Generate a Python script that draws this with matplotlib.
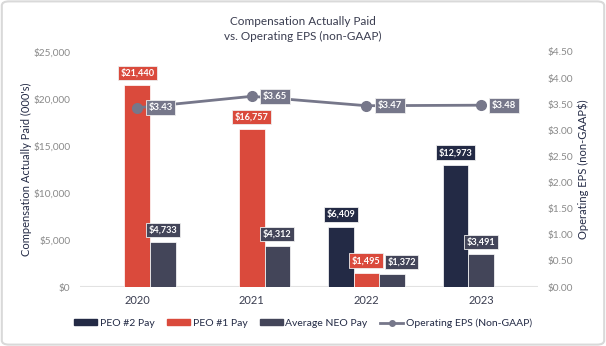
import numpy as np
import matplotlib.pyplot as plt
from matplotlib.patches import FancyBboxPatch
from matplotlib.lines import Line2D
from matplotlib.patches import Patch

years = ['2020', '2021', '2022', '2023']
peo2_pay = [None, None, 6409, 12973]
peo1_pay = [21440, 16757, 1495, None]
neo_pay = [4733, 4312, 1372, 3491]
eps = [3.43, 3.65, 3.47, 3.48]

series_names = ['PEO #2 Pay', 'PEO #1 Pay', 'Average NEO Pay']
series_vals = [peo2_pay, peo1_pay, neo_pay]
colors = ['#232a45', '#da4a3c', '#434559']
eps_color = '#76778a'

plt.rcParams['font.family'] = ['Lato', 'DejaVu Sans']

fig = plt.figure(figsize=(6.06, 3.46), dpi=100)
ax = fig.add_axes([0.132, 0.1705, 0.756, 0.6795])
ax2 = ax.twinx()

w = 0.223
x = np.arange(len(years))
for i in range(len(years)):
    # bars are packed side by side starting from the slot of the first present series
    present = [k for k in range(3) if series_vals[k][i] is not None]
    start = present[0] - 1
    prev_right = None
    for j, k in enumerate(present):
        xpos = x[i] + (start + j) * w
        v = series_vals[k][i]
        ax.bar(xpos, v, width=w, color=colors[k], edgecolor='white', linewidth=0.5, zorder=2)
        # nudge a label right when it would collide with its neighbour
        dx = 0
        if prev_right is not None and abs(v - prev_right) < 1500:
            dx = 7
        prev_right = v
        ax.annotate('${:,}'.format(v), (xpos, v), xytext=(dx, 5.5), textcoords='offset points',
                    ha='center', va='bottom', fontsize=6.6, fontweight='bold', color='white',
                    bbox=dict(boxstyle='square,pad=0.28', fc=colors[k], ec='#eeeeee', lw=0.6),
                    zorder=5)

ax2.plot(x, eps, color=eps_color, lw=2, marker='o', ms=7, zorder=3)
for xi, e in zip(x, eps):
    ax2.annotate('${:.2f}'.format(e), (xi, e), xytext=(8, 0), textcoords='offset points',
                 ha='left', va='center', fontsize=6.8, fontweight='bold', color='white',
                 bbox=dict(boxstyle='square,pad=0.3', fc=eps_color, ec='#eeeeee', lw=0.6),
                 zorder=6)

ax.set_xlim(-0.5, 3.5)
ax.set_ylim(0, 25000)
ax2.set_ylim(0, 4.5)
ax.set_xticks(x)
ax.set_xticklabels(years)
ax.set_yticks(np.arange(0, 25001, 5000))
ax.set_yticklabels(['${:,}'.format(v) for v in range(0, 25001, 5000)])
ax2.set_yticks(np.arange(0, 4.51, 0.5))
ax2.set_yticklabels(['${:.2f}'.format(v) for v in np.arange(0, 4.51, 0.5)])

for a in (ax, ax2):
    for s in a.spines.values():
        s.set_visible(False)
    a.tick_params(length=0, labelsize=7.3, labelcolor='#8a8a8a', pad=7)
ax.tick_params(axis='x', labelcolor='#3a3d50', labelsize=8, pad=6)
ax.axhline(0, color='#e2e2e2', lw=1.5, zorder=1)

ax.set_ylabel("Compensation Actually Paid (000's)", fontsize=8, color='#232a45', labelpad=1)
ax2.set_ylabel('Operating EPS (non-GAAP$)', fontsize=8, color='#232a45', labelpad=3)

fig.text(0.5, 0.955, 'Compensation Actually Paid\nvs. Operating EPS (non-GAAP)', ha='center', va='top',
         fontsize=8.5, color='#3a3d50', linespacing=1.5)

handles = [Patch(color=c) for c in colors] + [Line2D([], [], color=eps_color, lw=2, marker='o', ms=4)]
fig.legend(handles, series_names + ['Operating EPS (Non-GAAP)'], loc='center', bbox_to_anchor=(0.5, 0.066),
           ncol=4, frameon=False, fontsize=7.5, handlelength=2.2, handleheight=0.45, handletextpad=0.25,
           columnspacing=1.2, labelcolor='#232a45')

fig.patches.append(FancyBboxPatch((0.003, 0.004), 0.994, 0.992, boxstyle='round,pad=0,rounding_size=0.012',
                                  transform=fig.transFigure, fc='none', ec='#d9d9d9', lw=1.5))

fig.savefig('out.png', dpi=100)
